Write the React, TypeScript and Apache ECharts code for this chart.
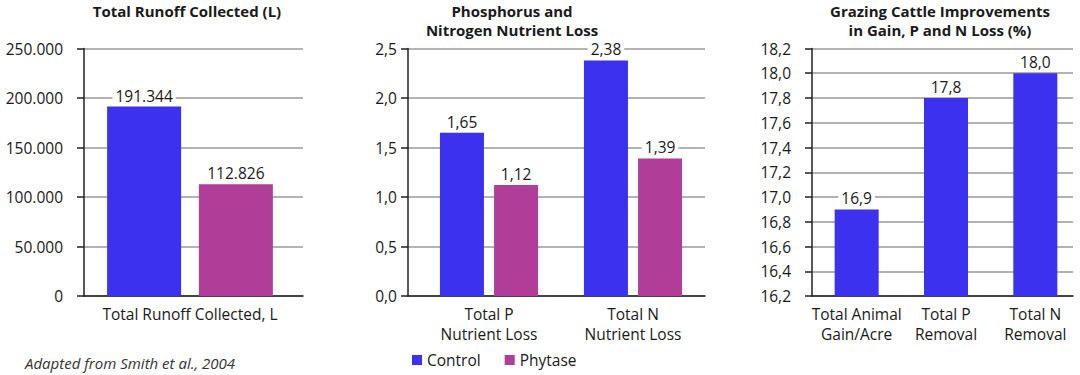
import React, { useEffect, useRef } from "react";
import * as echarts from "echarts";

const runoffCategories = ["Total Runoff Collected, L"];
const runoffControl = [191344];
const runoffPhytase = [112826];

const nutrientCategories = ["Total P\nNutrient Loss", "Total N\nNutrient Loss"];
const nutrientControl = [1.65, 2.38];
const nutrientPhytase = [1.12, 1.39];

const cattleCategories = ["Total Animal\nGain/Acre", "Total P\nRemoval", "Total N\nRemoval"];
const cattleValues = [16.9, 17.8, 18.0];

const titles = [
  "Total Runoff Collected (L)",
  "Phosphorus and\nNitrogen Nutrient Loss",
  "Grazing Cattle Improvements\nin Gain, P and N Loss (%)",
];
const footnote = "Adapted from Smith et al., 2004";

const BLUE = "#3b31ee";
const MAGENTA = "#b03d98";
const FONT = "'Open Sans', sans-serif";
const TXT = "#1a1a1a";
const FS = 15.5;

const thousands = (v: number) =>
  Math.round(v).toString().replace(/\B(?=(\d{3})+(?!\d))/g, ".");
const comma = (d: number) => (v: number) => v.toFixed(d).replace(".", ",");

export default function App() {
  const ref = useRef<HTMLDivElement>(null);
  useEffect(() => {
    document.body.style.margin = "0";
    const chart = echarts.init(ref.current!, null, { renderer: "svg" });
    const TOP = 48.5;
    const H = 247.5;

    const axisGridY = (gi: number, min: number, max: number, interval: number, fmt: any, margin: number) => ({
      gridIndex: gi,
      type: "value",
      min,
      max,
      interval,
      axisLine: { show: true, lineStyle: { color: "#222", width: 1.5 } },
      axisTick: { show: true, length: 7, lineStyle: { color: "#222", width: 1.5 } },
      axisLabel: { formatter: fmt, fontSize: FS, fontFamily: FONT, color: TXT, margin },
      splitLine: { show: true, lineStyle: { color: "#9a9a9a", width: 1.5 } },
    });
    const barGridY = (gi: number, min: number, max: number) => ({
      gridIndex: gi,
      type: "value",
      min,
      max,
      show: false,
      splitLine: { show: false },
    });
    const axisGridX = (gi: number) => ({
      gridIndex: gi,
      type: "category",
      data: [""],
      axisLine: { show: true, lineStyle: { color: "#222", width: 1.5 } },
      axisTick: { show: false },
      axisLabel: { show: false },
      splitLine: { show: false },
    });
    const barGridX = (gi: number, data: string[]) => ({
      gridIndex: gi,
      type: "category",
      data,
      axisLine: { show: false },
      axisTick: { show: false },
      axisLabel: { fontSize: FS, fontFamily: FONT, color: TXT, margin: 8, lineHeight: 20, interval: 0 },
      splitLine: { show: false },
    });
    const label = (fmt: any) => ({
      show: true,
      position: "top",
      distance: 3,
      formatter: (p: any) => fmt(p.value),
      fontSize: FS,
      fontFamily: FONT,
      color: TXT,
      backgroundColor: "#fff",
      padding: [0, 3],
    });
    const titleText = (x: number, text: string) => ({
      type: "text",
      x,
      y: 1,
      style: { text, textAlign: "center", font: `bold 15px ${FONT}`, fill: TXT, lineHeight: 19 },
    });

    chart.setOption({
      animation: false,
      backgroundColor: "#fff",
      grid: [
        { left: 84, width: 219, top: TOP, height: H },
        { left: 77, width: 226, top: TOP, height: H },
        { left: 408, width: 297, top: TOP, height: H },
        { left: 417, width: 288, top: TOP, height: H },
        { left: 812, width: 261, top: TOP, height: H },
        { left: 812, width: 286.5, top: TOP, height: H },
      ],
      xAxis: [
        axisGridX(0),
        barGridX(1, runoffCategories),
        axisGridX(2),
        barGridX(3, nutrientCategories),
        axisGridX(4),
        barGridX(5, cattleCategories),
      ],
      yAxis: [
        axisGridY(0, 0, 250000, 50000, thousands, 21),
        barGridY(1, 0, 250000),
        axisGridY(2, 0, 2.5, 0.5, comma(1), 11),
        barGridY(3, 0, 2.5),
        axisGridY(4, 16.2, 18.2, 0.2, comma(1), 21),
        barGridY(5, 16.2, 18.2),
      ],
      legend: {
        data: ["Control", "Phytase"],
        left: 407,
        top: 347,
        icon: "rect",
        itemWidth: 10,
        itemHeight: 10,
        itemGap: 24,
        textStyle: { fontSize: FS, fontFamily: FONT, color: TXT },
      },
      series: [
        {
          name: "Control",
          type: "bar",
          xAxisIndex: 1,
          yAxisIndex: 1,
          data: runoffControl,
          barWidth: 74,
          barGap: "24%",
          itemStyle: { color: BLUE },
          label: label(thousands),
        },
        {
          name: "Phytase",
          type: "bar",
          xAxisIndex: 1,
          yAxisIndex: 1,
          data: runoffPhytase,
          barWidth: 74,
          barGap: "24%",
          itemStyle: { color: MAGENTA },
          label: label(thousands),
        },
        {
          name: "Control",
          type: "bar",
          xAxisIndex: 3,
          yAxisIndex: 3,
          data: nutrientControl,
          barWidth: 44,
          barGap: "23%",
          itemStyle: { color: BLUE },
          label: label(comma(2)),
        },
        {
          name: "Phytase",
          type: "bar",
          xAxisIndex: 3,
          yAxisIndex: 3,
          data: nutrientPhytase,
          barWidth: 44,
          barGap: "23%",
          itemStyle: { color: MAGENTA },
          label: label(comma(2)),
        },
        {
          name: "Improvement",
          type: "bar",
          xAxisIndex: 5,
          yAxisIndex: 5,
          data: cattleValues,
          barWidth: 44,
          itemStyle: { color: BLUE },
          label: label(comma(1)),
        },
      ],
      graphic: [
        titleText(187, titles[0]),
        titleText(512, titles[1]),
        titleText(940, titles[2]),
        {
          type: "text",
          x: 25,
          y: 363,
          style: { text: footnote, font: `italic 15px ${FONT}`, fill: "#333", textVerticalAlign: "middle" },
        },
      ],
    });
    return () => chart.dispose();
  }, []);
  return <div ref={ref} style={{ width: 1080, height: 375 }} />;
}
